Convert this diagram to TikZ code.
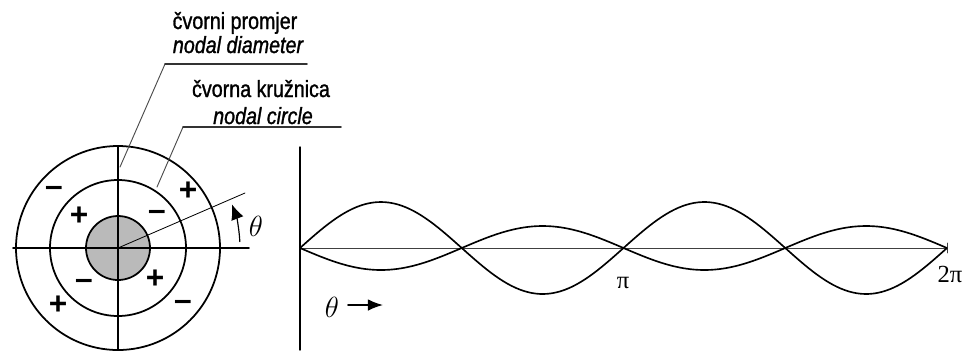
\documentclass[tikz,border=0pt]{standalone}
\usepackage{fontspec}
\setmainfont{Liberation Sans}
\newfontfamily\labelfont[FakeStretch=0.84, FakeBold=1.2]{Liberation Sans}
\newfontfamily\signfont{Liberation Sans}
\newfontfamily\pifont{Liberation Serif}
\usetikzlibrary{arrows.meta,calc}

\tikzset{
  lbl/.style={font=\labelfont\fontsize{20}{23}\selectfont, inner sep=0pt, anchor=base},
  lblit/.style={lbl, font=\labelfont\itshape\fontsize{20}{23}\selectfont},
  sgn/.style={font=\signfont\bfseries\fontsize{27}{30}\selectfont, inner sep=0pt,
    text height=0.66em, text depth=0pt},
  thetalbl/.style={font=\fontsize{24}{28}\selectfont, inner sep=0pt, anchor=base},
  pilbl/.style={font=\pifont\fontsize{21}{24}\selectfont, inner sep=0pt, anchor=base},
  leader/.style={line width=0.8pt, draw=black!70},
  underln/.style={line width=1.3pt, draw=black!80},
  ring/.style={line width=1.5pt},
  wave/.style={line width=1.4pt},
}

\begin{document}
\begin{tikzpicture}[x=0.03cm, y=-0.03cm, line cap=round, line join=round]
  \useasboundingbox (0,0) rectangle (965,350);

  % Disc with nodal circle and nodal diameters
  \coordinate (O) at (118,248);
  \fill[black!27] (O) circle[radius=32];
  \draw[ring] (O) circle[radius=32];
  \draw[ring] (O) circle[radius=68];
  \draw[ring] (O) circle[radius=102];
  \draw[ring] (13,248) -- (249,248);
  \draw[ring] (118,146) -- (118,350);

  % Angle theta
  \coordinate (R) at (245,193);
  \draw[line width=0.7pt] (O) -- (R);
  \draw[line width=1pt, -{Latex[length=13pt, width=11pt]}]
    ($(O)+(-3:122)$) arc[start angle=-3, end angle=-21, radius=122];
  \node[thetalbl] (thA) at (256,236) {$\theta$};

  % Signs
  \node[sgn] (s1) at (54,193) {–};
  \node[sgn] (s2) at (188,197) {+};
  \node[sgn] (s3) at (58,311) {+};
  \node[sgn] (s4) at (183,307) {–};
  \node[sgn] (s5) at (79,222) {+};
  \node[sgn] (s6) at (157,217) {–};
  \node[sgn] (s7) at (84,286) {–};
  \node[sgn] (s8) at (155,285) {+};

  % Labels with leaders
  \node[lbl] (promjer) at (235,29) {čvorni promjer};
  \node[lblit] (diam) at (238,53) {nodal diameter};
  \node[lbl] (kruznica) at (261,97) {čvorna kružnica};
  \node[lblit] (circ) at (263,124) {nodal circle};

  \coordinate (dd) at (120,167);
  \coordinate (d1) at (165,64);
  \coordinate (d2) at (307,64);
  \coordinate (cc) at (157,187);
  \coordinate (c1) at (183,127);
  \coordinate (c2) at (341,127);
  \draw[leader] (dd) -- (d1);
  \draw[underln] (d1) -- (d2);
  \draw[leader] (cc) -- (c1);
  \draw[underln] (c1) -- (c2);

  % Mode shape over theta
  \coordinate (A0) at (300,248);
  \coordinate (A2) at (947,248);
  \draw[line width=1.2pt] (300,147) -- (300,350);
  \draw[line width=0.8pt, draw=black!75] (A0) -- (A2);
  \draw[line width=0.8pt, draw=black!75] (947,243) -- (947,253);
  \draw[wave] plot[domain=0:1, samples=160] ({300+647*\x},{248-46*sin(720*\x)});
  \draw[wave] plot[domain=0:1, samples=160] ({300+647*\x},{248+22*sin(720*\x)});

  \node[pilbl] (pi) at (623,288) {π};
  \node[pilbl] (twopi) at (950,282) {2π};

  \node[thetalbl] (thB) at (332,317) {$\theta$};
  \coordinate (ar0) at (348,305);
  \coordinate (ar1) at (383,305);
  \draw[line width=1.3pt, -{Latex[length=13pt, width=10pt]}] (ar0) -- (ar1);

\end{tikzpicture}
\end{document}
